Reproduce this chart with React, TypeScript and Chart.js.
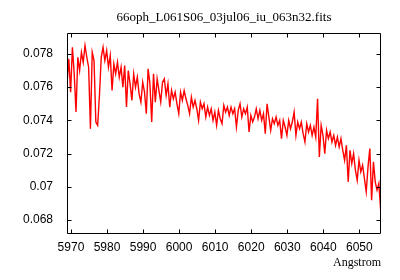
import React, { useEffect, useRef } from "react";
import { Chart, registerables } from "chart.js";

Chart.register(...registerables);

const TITLE = "66oph_L061S06_03jul06_iu_063n32.fits";
const X_LABEL = "Angstrom";

// Dispersion grid of the spectrum (start wavelength and step, Angstrom)
const WAVE_START = 5968.9;
const WAVE_STEP = 0.5;

// Flux values, one per grid step
const flux = [
  0.0762, 0.0777, 0.0757, 0.0784, 0.0768, 0.0745, 0.0778, 0.0770, 0.0781, 0.0775,
  0.0785, 0.0778, 0.0772, 0.0735, 0.0781, 0.0776, 0.0739, 0.0737, 0.0755, 0.0778,
  0.0784, 0.0776, 0.0782, 0.0772, 0.0779, 0.0758, 0.0774, 0.0768, 0.0775, 0.0766,
  0.0772, 0.0760, 0.0773, 0.0748, 0.0770, 0.0762, 0.0752, 0.0768, 0.0760, 0.0766,
  0.0756, 0.0751, 0.0763, 0.0757, 0.0744, 0.0771, 0.0762, 0.0739, 0.0768, 0.0751,
  0.0765, 0.0758, 0.0751, 0.0763, 0.0765, 0.0755, 0.0762, 0.0748, 0.0758, 0.0753,
  0.0757, 0.0750, 0.0744, 0.0757, 0.0752, 0.0758, 0.0753, 0.0749, 0.0744, 0.0754,
  0.0748, 0.0752, 0.0747, 0.0740, 0.0751, 0.0747, 0.0750, 0.0742, 0.0748, 0.0743,
  0.0747, 0.0740, 0.0745, 0.0737, 0.0746, 0.0741, 0.0738, 0.0749, 0.0745, 0.0748,
  0.0743, 0.0748, 0.0744, 0.0747, 0.0736, 0.0746, 0.0750, 0.0742, 0.0747, 0.0744,
  0.0748, 0.0733, 0.0743, 0.0739, 0.0742, 0.0747, 0.0741, 0.0746, 0.0740, 0.0744,
  0.0732, 0.0750, 0.0742, 0.0734, 0.0741, 0.0738, 0.0742, 0.0737, 0.0740, 0.0729,
  0.0740, 0.0736, 0.0731, 0.0740, 0.0735, 0.0739, 0.0745, 0.0731, 0.0739, 0.0735,
  0.0739, 0.0732, 0.0727, 0.0738, 0.0733, 0.0737, 0.0731, 0.0736, 0.0730, 0.0753,
  0.0718, 0.0737, 0.0731, 0.0720, 0.0734, 0.0729, 0.0733, 0.0727, 0.0731, 0.0725,
  0.0730, 0.0724, 0.0729, 0.0722, 0.0716, 0.0725, 0.0703, 0.0722, 0.0714, 0.0720,
  0.0710, 0.0704, 0.0716, 0.0709, 0.0713, 0.0705, 0.0697, 0.0712, 0.0723, 0.0692,
  0.0715, 0.0703, 0.0698, 0.0702, 0.0686,
];

const xTicks = [5970, 5980, 5990, 6000, 6010, 6020, 6030, 6040, 6050];
const yTicks = [0.068, 0.07, 0.072, 0.074, 0.076, 0.078];

const X_MIN = 5968.9;
const X_MAX = 6056.0;
const Y_MIN = 0.06716;
const Y_MAX = 0.07926;

const framePlugin = {
  id: "gnuplotFrame",
  afterDraw(chart: any) {
    const { ctx, chartArea: a, scales } = chart;
    ctx.save();
    ctx.strokeStyle = "#000";
    ctx.lineWidth = 1;
    const l = Math.round(a.left) + 0.5;
    const r = Math.round(a.right) - 0.5;
    const t = Math.round(a.top) + 0.5;
    const b = Math.round(a.bottom) - 0.5;
    ctx.beginPath();
    ctx.rect(l, t, r - l, b - t);
    const L = 4;
    for (const v of xTicks) {
      const px = Math.round(scales.x.getPixelForValue(v)) + 0.5;
      ctx.moveTo(px, t);
      ctx.lineTo(px, t + L);
      ctx.moveTo(px, b);
      ctx.lineTo(px, b - L);
    }
    for (const v of yTicks) {
      const py = Math.round(scales.y.getPixelForValue(v)) + 0.5;
      ctx.moveTo(l, py);
      ctx.lineTo(l + L, py);
      ctx.moveTo(r, py);
      ctx.lineTo(r - L, py);
    }
    ctx.stroke();

    ctx.fillStyle = "#000";
    ctx.textBaseline = "middle";
    ctx.textAlign = "center";
    ctx.font = '13px "Liberation Serif"';
    ctx.fillText(TITLE, (a.left + a.right) / 2, a.top - 15);
    ctx.textAlign = "right";
    ctx.font = '12px "Liberation Serif"';
    ctx.fillText(X_LABEL, a.right, a.bottom + 29);
    ctx.restore();
  },
};

export default function App() {
  const ref = useRef<HTMLCanvasElement | null>(null);

  useEffect(() => {
    if (!ref.current) return;
    const points = flux.map((f, i) => ({ x: WAVE_START + i * WAVE_STEP, y: f }));
    const tickFont = { family: '"Liberation Sans"', size: 12 };
    const chart = new Chart(ref.current, {
      type: "line",
      data: {
        datasets: [
          {
            data: points,
            borderColor: "#ff0000",
            borderWidth: 1.4,
            pointRadius: 0,
            tension: 0,
            fill: false,
          },
        ],
      },
      options: {
        animation: false,
        responsive: false,
        layout: { padding: { top: 33, right: 19, left: 0, bottom: 0 } },
        plugins: {
          legend: { display: false },
          tooltip: { enabled: false },
          title: { display: false },
        },
        scales: {
          x: {
            type: "linear",
            min: X_MIN,
            max: X_MAX,
            grid: { display: false, drawTicks: false },
            border: { display: false },
            afterBuildTicks: (s: any) => {
              s.ticks = xTicks.map((v) => ({ value: v }));
            },
            afterFit: (s: any) => {
              s.height = 46;
            },
            ticks: {
              font: tickFont,
              color: "#000",
              padding: 6,
              maxRotation: 0,
              autoSkip: false,
              callback: (v: any) => String(v),
            },
          },
          y: {
            type: "linear",
            min: Y_MIN,
            max: Y_MAX,
            grid: { display: false, drawTicks: false },
            border: { display: false },
            afterBuildTicks: (s: any) => {
              s.ticks = yTicks.map((v) => ({ value: v }));
            },
            afterFit: (s: any) => {
              s.width = 67;
            },
            ticks: {
              font: tickFont,
              color: "#000",
              padding: 14,
              autoSkip: false,
              callback: (v: any) => String(parseFloat(Number(v).toFixed(3))),
            },
          },
        },
      },
      plugins: [framePlugin],
    });
    return () => chart.destroy();
  }, []);

  return (
    <div style={{ position: "fixed", left: 0, top: 0, width: 400, height: 280, background: "#fff" }}>
      <canvas ref={ref} width={400} height={280} style={{ width: 400, height: 280, display: "block" }} />
    </div>
  );
}
